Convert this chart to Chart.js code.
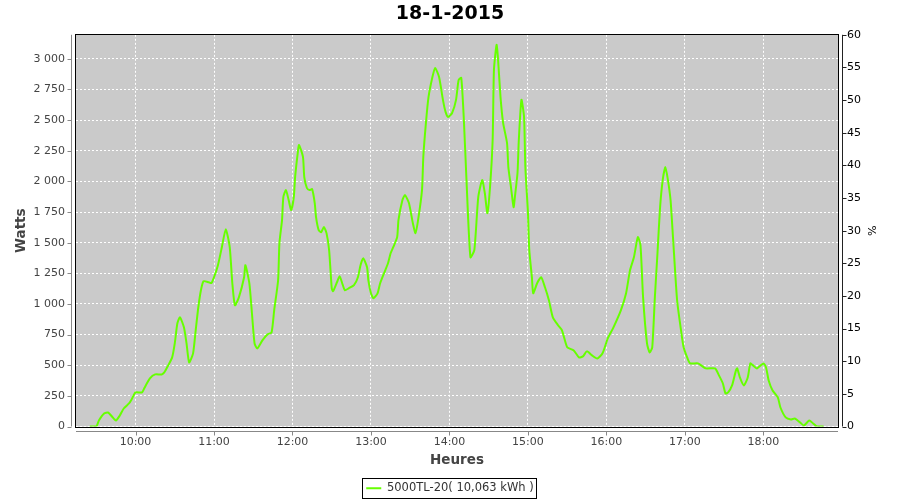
<!DOCTYPE html>
<html>
<head>
<meta charset="utf-8">
<script src="https://cdn.jsdelivr.net/npm/chart.js@4.4.1/dist/chart.umd.min.js"></script>
<style>
body { margin: 0; background: #fff; }
</style>
</head>
<body>
<canvas id="powerChart" width="900" height="500"></canvas>
<script>
const chartTitle = '18-1-2015';
const seriesLabel = '5000TL-20( 10,063 kWh )';

const times = [
    '9:25','9:30','9:32','9:36','9:39','9:42','9:45','9:48','9:51','9:55','9:57',
    '10:00','10:05','10:07','10:11','10:15','10:20','10:22','10:25','10:28','10:30','10:32','10:34','10:37','10:39','10:41','10:44','10:46','10:48','10:50','10:52','10:56','10:58',
    '11:00','11:03','11:06','11:09','11:12','11:14','11:16','11:19','11:23','11:24','11:27','11:29','11:31','11:33','11:37','11:41','11:44','11:46','11:49','11:50','11:52','11:53','11:55','11:57','11:59',
    '12:01','12:02','12:04','12:05','12:08','12:09','12:11','12:13','12:15','12:17','12:18','12:20','12:22','12:24','12:26','12:28','12:30','12:31','12:34','12:36','12:38','12:40','12:43','12:47','12:50','12:52','12:54','12:57','12:58',
    '13:00','13:02','13:05','13:07','13:10','13:13','13:15','13:17','13:20','13:21','13:24','13:26','13:29','13:32','13:34','13:36','13:39','13:40','13:42','13:44','13:47','13:49','13:52','13:55','13:57','13:59',
    '14:02','14:05','14:07','14:09','14:11','14:13','14:16','14:19','14:22','14:25','14:27','14:29','14:31','14:33','14:34','14:36','14:37','14:39','14:41','14:44','14:45','14:47','14:49','14:50','14:52','14:53','14:55','14:57','14:58',
    '15:00','15:01','15:03','15:04','15:07','15:10','15:13','15:16','15:19','15:23','15:26','15:30','15:35','15:39','15:42','15:45','15:49','15:53','15:57',
    '16:01','16:05','16:11','16:15','16:18','16:21','16:24','16:26','16:28','16:31','16:33','16:35','16:37','16:39','16:41','16:43','16:45','16:47','16:49','16:51','16:54','16:57','16:59',
    '17:02','17:04','17:10','17:16','17:23','17:26','17:29','17:31','17:33','17:36','17:39','17:40','17:42','17:45','17:48','17:50','17:52','17:55',
    '18:00','18:02','18:04','18:07','18:11','18:13','18:17','18:21','18:24','18:28','18:31','18:35','18:38','18:41','18:46'
];

const watts = [
    0,0,49,106,114,82,49,90,147,188,221,
    278,278,319,392,425,425,441,499,564,678,842,891,809,678,523,597,785,973,1112,1185,1177,1170,
    1218,1316,1463,1610,1463,1169,989,1054,1218,1316,1169,924,678,637,703,752,768,948,1193,1496,1684,1872,1929,1850,1766,
    1872,2035,2231,2297,2200,2035,1946,1929,1937,1823,1708,1602,1586,1627,1578,1439,1128,1104,1177,1226,1169,1112,1128,1153,1218,1316,1373,1300,1193,
    1087,1046,1087,1169,1251,1332,1414,1463,1545,1684,1847,1888,1823,1659,1578,1684,1929,2199,2477,2689,2853,2926,2853,2665,2567,2526,
    2558,2665,2828,2845,2501,2011,1381,1439,1872,2011,1905,1741,1954,2338,2910,3114,3016,2689,2477,2313,2117,1954,1790,1872,2068,2338,2665,2526,2117,
    1741,1440,1218,1087,1169,1218,1136,1030,891,826,785,646,621,564,572,613,580,555,597,
    719,801,948,1087,1275,1381,1545,1480,1054,678,605,646,1054,1414,1790,2011,2117,2011,1847,1520,1030,785,646,
    555,515,515,474,474,417,351,270,278,335,458,474,400,335,400,515,499,474,
    515,482,376,294,237,155,74,57,65,33,8,49,25,0,0
];

// x axis ticks (minutes since midnight) and their labels
const hourTicks = [600, 660, 720, 780, 840, 900, 960, 1020, 1080];
const hourLabels = ['10:00','11:00','12:00','13:00','14:00','15:00','16:00','17:00','18:00'];
const wattTicks = [0,250,500,750,1000,1250,1500,1750,2000,2250,2500,2750,3000];

function toMinutes(t) {
    const parts = t.split(':');
    return parseInt(parts[0]) * 60 + parseInt(parts[1]);
}

function formatWatts(v) {
    if (v >= 1000) {
        return Math.floor(v / 1000) + ' ' + String(v % 1000).padStart(3, '0');
    }
    return String(v);
}

const points = times.map((t, i) => ({ x: toMinutes(t), y: watts[i] }));

// gray plot background, black frame, offset axis lines, legend box
const plotFrame = {
    id: 'plotFrame',
    beforeDraw(chart) {
        const { ctx, chartArea: a } = chart;
        ctx.save();
        ctx.fillStyle = '#cacaca';
        ctx.fillRect(a.left, a.top, a.right - a.left, a.bottom - a.top);
        ctx.restore();
    },
    afterDraw(chart) {
        const { ctx, chartArea: a, scales } = chart;
        ctx.save();
        ctx.lineWidth = 1;
        ctx.strokeStyle = '#000';
        ctx.strokeRect(Math.round(a.left) - 0.5, Math.round(a.top) - 0.5,
            Math.round(a.right - a.left) + 1, Math.round(a.bottom - a.top) + 1);

        ctx.strokeStyle = '#888';
        ctx.beginPath();
        const lx = Math.round(a.left) - 4.5;
        ctx.moveTo(lx, a.top);
        ctx.lineTo(lx, a.bottom);
        scales.y.ticks.forEach(t => {
            const y = Math.round(scales.y.getPixelForValue(t.value)) + 0.5;
            ctx.moveTo(lx - 4, y);
            ctx.lineTo(lx, y);
        });
        const by = Math.round(a.bottom) + 4.5;
        ctx.moveTo(a.left, by);
        ctx.lineTo(a.right, by);
        scales.x.ticks.forEach(t => {
            const x = Math.round(scales.x.getPixelForValue(t.value)) + 0.5;
            ctx.moveTo(x, by);
            ctx.lineTo(x, by + 4);
        });
        ctx.stroke();

        ctx.strokeStyle = '#222';
        ctx.beginPath();
        const rx = Math.round(a.right) + 4.5;
        ctx.moveTo(rx, a.top);
        ctx.lineTo(rx, a.bottom);
        scales.pct.ticks.forEach(t => {
            const y = Math.round(scales.pct.getPixelForValue(t.value)) + 0.5;
            ctx.moveTo(rx, y);
            ctx.lineTo(rx + 4, y);
        });
        ctx.stroke();

        const box = chart.legend.legendHitBoxes[0];
        if (box) {
            ctx.strokeStyle = '#000';
            ctx.strokeRect(Math.round(box.left) - 3.5, Math.round(box.top) - 4.5,
                Math.round(box.width) + 6, Math.round(box.height) + 8);
        }
        ctx.restore();
    }
};

const ctx = document.getElementById('powerChart').getContext('2d');
const powerChart = new Chart(ctx, {
    type: 'line',
    data: {
        datasets: [{
            label: seriesLabel,
            data: points,
            borderColor: '#66ff00',
            backgroundColor: '#66ff00',
            borderWidth: 2,
            pointRadius: 0,
            pointStyle: 'line',
            tension: 0.2,
            fill: false
        }]
    },
    options: {
        responsive: false,
        animation: false,
        devicePixelRatio: 1,
        layout: { padding: { left: 0, right: 0, top: 0, bottom: -4 } },
        plugins: {
            title: {
                display: true,
                text: chartTitle,
                color: '#000',
                font: { family: 'DejaVu Sans', size: 19, weight: 'bold' },
                padding: { top: 3, bottom: 9 }
            },
            legend: {
                position: 'bottom',
                labels: {
                    usePointStyle: true,
                    pointStyleWidth: 15,
                    padding: 10,
                    color: '#333',
                    font: { family: 'DejaVu Sans', size: 11.5 }
                }
            },
            tooltip: { enabled: false }
        },
        scales: {
            x: {
                type: 'linear',
                min: 554.5,
                max: 1137,
                afterFit(scale) { scale.height = 46; },
                afterBuildTicks(scale) { scale.ticks = hourTicks.map(v => ({ value: v })); },
                grid: { color: '#ffffff', drawTicks: false },
                border: { display: false, dash: [2, 2] },
                ticks: {
                    padding: 9,
                    color: '#444',
                    font: { family: 'DejaVu Sans', size: 11 },
                    callback: v => hourLabels[hourTicks.indexOf(v)]
                },
                title: {
                    display: true,
                    text: 'Heures',
                    color: '#444',
                    font: { family: 'DejaVu Sans', size: 13.5, weight: 'bold' },
                    padding: { top: 0, bottom: 4 }
                }
            },
            y: {
                position: 'left',
                min: 0,
                max: 3196,
                afterFit(scale) { scale.width = 76; },
                afterBuildTicks(scale) { scale.ticks = wattTicks.map(v => ({ value: v })); },
                grid: { color: '#ffffff', drawTicks: false },
                border: { display: false, dash: [2, 2] },
                ticks: {
                    padding: 11,
                    color: '#444',
                    font: { family: 'DejaVu Sans', size: 11 },
                    callback: v => formatWatts(v)
                },
                title: {
                    display: true,
                    text: 'Watts',
                    color: '#444',
                    font: { family: 'DejaVu Sans', size: 13.5, weight: 'bold' },
                    padding: { top: 13, bottom: 0 }
                }
            },
            pct: {
                position: 'right',
                min: 0,
                max: 60,
                afterFit(scale) { scale.width = 62; },
                grid: { display: false, drawTicks: false },
                border: { display: false },
                ticks: {
                    stepSize: 5,
                    padding: 9,
                    color: '#000',
                    font: { family: 'DejaVu Sans', size: 11 }
                },
                title: {
                    display: true,
                    text: '%',
                    color: '#000',
                    font: { family: 'DejaVu Sans', size: 11 },
                    padding: { top: 23, bottom: 0 }
                }
            }
        }
    },
    plugins: [plotFrame]
});
</script>
</body>
</html>
